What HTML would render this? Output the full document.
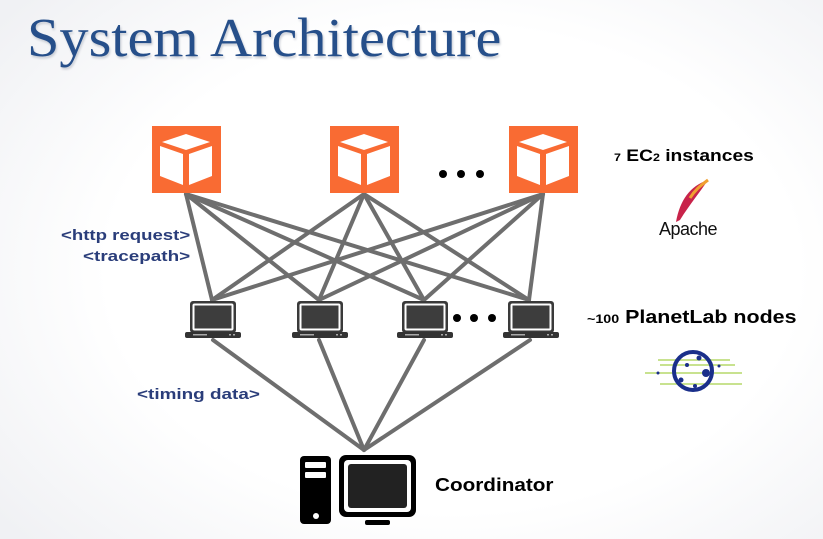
<!DOCTYPE html>
<html><head><meta charset="utf-8"><style>
html,body{margin:0;padding:0}
body{width:823px;height:539px;overflow:hidden;background:radial-gradient(ellipse 70% 75% at 55% 50%,#ffffff 60%,#f0f1f4 100%);font-family:"Liberation Sans",sans-serif;position:relative}
.t{position:absolute;white-space:nowrap;transform-origin:left top}
</style></head><body>
<svg width="823" height="539" style="position:absolute;left:0;top:0">
<defs>
<g id="cube">
<rect x="0" y="0" width="69" height="67" fill="#f96b33"/>
<polygon points="10,16 34,8 58,16 34,24" fill="#fff"/>
<polygon points="8,20 31,28 31,59 8,50" fill="#fff"/>
<polygon points="60,20 37,28 37,59 60,50" fill="#fff"/>
</g>
<g id="lap">
<rect x="5" y="0" width="46" height="32" rx="3" fill="#3a3a3a"/>
<rect x="7.5" y="2.5" width="41" height="27" rx="2" fill="#fff"/>
<rect x="9.5" y="4.5" width="37" height="23" fill="#3d3d3d"/>
<rect x="0" y="31" width="56" height="6" rx="2" fill="#333"/>
<rect x="8" y="33" width="14" height="1.5" fill="#aaa"/>
<rect x="44" y="33" width="2" height="1.5" fill="#aaa"/><rect x="48" y="33" width="2" height="1.5" fill="#aaa"/>
</g>
</defs>
<g stroke="#6e6e6e" stroke-width="4" stroke-linecap="round">
<line x1="186" y1="194" x2="212" y2="300"/><line x1="186" y1="194" x2="319" y2="300"/><line x1="186" y1="194" x2="424" y2="300"/><line x1="186" y1="194" x2="529" y2="300"/>
<line x1="364" y1="194" x2="212" y2="300"/><line x1="364" y1="194" x2="319" y2="300"/><line x1="364" y1="194" x2="424" y2="300"/><line x1="364" y1="194" x2="529" y2="300"/>
<line x1="543" y1="194" x2="212" y2="300"/><line x1="543" y1="194" x2="319" y2="300"/><line x1="543" y1="194" x2="424" y2="300"/><line x1="543" y1="194" x2="529" y2="300"/>
<line x1="213" y1="340" x2="364" y2="450"/><line x1="319" y1="340" x2="364" y2="450"/><line x1="424" y1="340" x2="364" y2="450"/><line x1="530" y1="340" x2="364" y2="450"/>
</g>
<use href="#cube" x="152" y="126"/><use href="#cube" x="330" y="126"/><use href="#cube" x="509" y="126"/>
<g fill="#000"><circle cx="443" cy="174" r="4"/><circle cx="461" cy="174" r="4"/><circle cx="480" cy="174" r="4"/>
<circle cx="457" cy="318" r="4"/><circle cx="474" cy="318" r="4"/><circle cx="492" cy="318" r="4"/></g>
<use href="#lap" x="185" y="301"/><use href="#lap" x="292" y="301"/><use href="#lap" x="397" y="301"/><use href="#lap" x="503" y="301"/>
<rect x="300" y="456" width="31" height="68" rx="4" fill="#000"/>
<rect x="305" y="462" width="21" height="6" rx="1" fill="#fff"/><rect x="305" y="472" width="21" height="6" rx="1" fill="#fff"/>
<circle cx="316" cy="516" r="3" fill="#fff"/>
<rect x="339" y="455" width="77" height="62" rx="7" fill="#000"/>
<rect x="344" y="460" width="67" height="52" rx="4" fill="#fff"/>
<rect x="348" y="464" width="59" height="44" rx="3" fill="#222"/>
<rect x="365" y="520" width="25" height="5" rx="2" fill="#000"/>
<g stroke="#b5d86a" stroke-width="1.5"><line x1="658" y1="360" x2="730" y2="360"/><line x1="645" y1="373" x2="742" y2="373"/><line x1="660" y1="384" x2="742" y2="384"/><line x1="660" y1="365" x2="735" y2="365"/></g>
<circle cx="693" cy="371" r="19" fill="none" stroke="#1a2f8a" stroke-width="4"/>
<g fill="#1a2f8a"><circle cx="699" cy="358" r="2.5"/><circle cx="687" cy="365" r="2"/><circle cx="706" cy="373" r="4"/><circle cx="681" cy="380" r="2.5"/><circle cx="695" cy="386" r="2"/><circle cx="658" cy="373" r="1.5"/><circle cx="719" cy="366" r="1.5"/></g>
<path d="M708 180 C690 186 680 200 676 222 L680 220 C690 204 700 192 708 180 Z" fill="#c8234a"/>
<path d="M708 180 C700 186 695 190 690 198" stroke="#f0a030" stroke-width="3" fill="none"/>
</svg>
<div class="t" style="left:27px;top:6px;font-family:'Liberation Serif',serif;font-size:55px;color:#264f8a;text-shadow:1px 2px 2px #c8ccd4;transform:scaleX(1.06)">System Architecture</div>
<div class="t" style="left:614px;top:146px;font-size:17px;font-weight:bold;color:#000;transform:scaleX(1.13)"><span style="font-size:11px">7</span> EC<span style="font-size:11px">2</span> instances</div>
<div class="t" style="left:659px;top:219px;font-size:18px;color:#111;letter-spacing:-0.5px">Apache</div>
<div class="t" style="left:587px;top:307px;font-size:18px;font-weight:bold;color:#000;transform:scaleX(1.19)"><span style="font-size:12px">~100</span> PlanetLab nodes</div>
<div class="t" style="left:61px;top:227px;font-size:15px;font-weight:bold;color:#2a3d7a;transform:scaleX(1.24)">&lt;http request&gt;</div>
<div class="t" style="left:83px;top:248px;font-size:15px;font-weight:bold;color:#2a3d7a;transform:scaleX(1.26)">&lt;tracepath&gt;</div>
<div class="t" style="left:137px;top:386px;font-size:15px;font-weight:bold;color:#2a3d7a;transform:scaleX(1.26)">&lt;timing data&gt;</div>
<div class="t" style="left:435px;top:475px;font-size:18px;font-weight:bold;color:#000;transform:scaleX(1.15)">Coordinator</div>
</body></html>
